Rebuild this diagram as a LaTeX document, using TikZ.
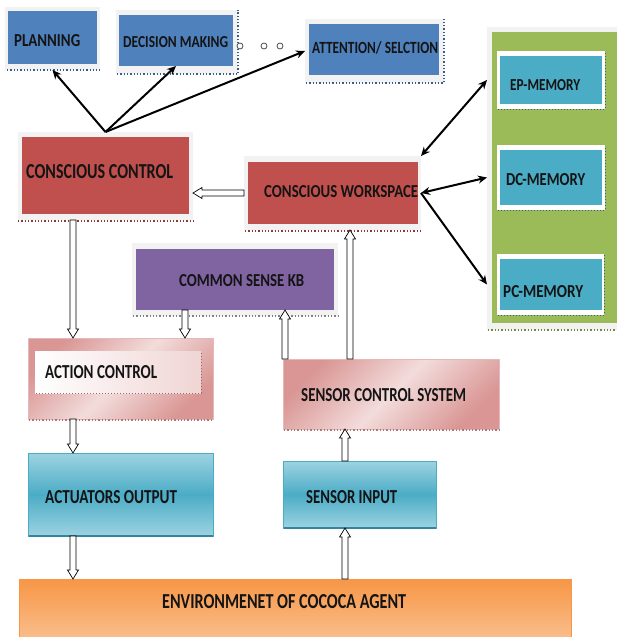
\documentclass[tikz,border=0pt]{standalone}
\usepackage{fontspec}
\setmainfont{Carlito}
\usepackage{graphicx}
\usetikzlibrary{calc,arrows.meta}
\definecolor{blueBox}{HTML}{4F81BD}
\definecolor{blueSh}{HTML}{385D8A}
\definecolor{frameG}{HTML}{F2F2F2}
\definecolor{redBox}{HTML}{C0504D}
\definecolor{redSh}{HTML}{8C3836}
\definecolor{purpBox}{HTML}{8064A2}
\definecolor{greenBox}{HTML}{9BBB59}
\definecolor{greenSh}{HTML}{71893F}
\definecolor{memBox}{HTML}{4BACC6}
\definecolor{pinkD}{HTML}{D99694}
\definecolor{pinkL}{HTML}{F2DCDB}
\definecolor{pinkB}{HTML}{E6B9B8}
\definecolor{cyanL}{HTML}{9DD3E1}
\definecolor{cyanD}{HTML}{4BACC6}
\definecolor{cyanB}{HTML}{31859C}
\definecolor{orD}{HTML}{F79646}
\definecolor{orL}{HTML}{FAC090}
\definecolor{txt}{HTML}{141414}
\newcommand\mkbox[6]{\node[#6, minimum width={(#4-#2)*1pt}, minimum height={(#5-#3)*1pt}] (#1) at ({(#2+#4)/2},{(#3+#5)/2}) {};}
\newcommand\fitlbl[3]{\resizebox{#1pt}{#2pt}{#3}}
\newcommand\blockarrow[2]{%
  \path (#1) coordinate (ba-s) (#2) coordinate (ba-e);
  \path ($(ba-e)!9pt!(ba-s)$) coordinate (ba-h);
  \draw[blk] ($(ba-s)!3pt!90:(ba-e)$) -- ($(ba-h)!3pt!-90:(ba-s)$) -- ($(ba-h)!5.5pt!-90:(ba-s)$) -- (ba-e) -- ($(ba-h)!5.5pt!90:(ba-s)$) -- ($(ba-h)!3pt!90:(ba-s)$) -- ($(ba-s)!3pt!-90:(ba-e)$) -- cycle;}
\begin{document}
\begin{tikzpicture}[x=1pt,y=-1pt,
  bx/.style={inner sep=0pt, outer sep=0pt},
  frm/.style={bx, fill=frameG},
  lbl/.style={anchor=west, inner sep=0pt, text=txt, font=\bfseries},
  tarr/.style={line width=2pt, draw=black},
  blk/.style={draw=black, line width=0.7pt, fill=white, line join=miter},
  shd/.style={dotted, line width=1.3pt},
  hnd/.style={circle, draw=black!70, line width=0.8pt, minimum size=6pt, inner sep=0pt, fill=white}]
\useasboundingbox (0,0) rectangle (617,637);
\fill[white] (0,0) rectangle (617,637);
% ---- top blue boxes
\mkbox{plan-f}{5}{7}{100}{70}{frm}
\draw[shd, draw=blueSh] (7,70) -- (100,70);
\mkbox{plan}{8}{11}{97}{64}{bx, fill=blueBox}
\mkbox{dec-f}{116}{10}{238}{74}{frm}
\draw[shd, draw=blueSh] (117,74) -- (238,74) -- (238,10);
\mkbox{dec}{119}{15}{233}{66}{bx, fill=blueBox}
\mkbox{att-f}{305}{19}{444}{83}{frm}
\draw[shd, draw=blueSh] (306,83) -- (444,83) -- (444,19);
\mkbox{att}{309}{24}{439}{75}{bx, fill=blueBox}
\node[hnd] (h1) at (240,46) {};
\node[hnd] (h2) at (264,46) {};
\node[hnd] (h3) at (280,46) {};
% ---- red boxes
\mkbox{cc-f}{18}{132}{193}{220}{frm}
\draw[shd, draw=redSh] (18,221) -- (193,221);
\mkbox{cc}{22}{137}{189}{214}{bx, fill=redBox}
\mkbox{cw-f}{244}{156}{421}{230}{frm}
\draw[shd, draw=redSh] (245,231) -- (421,231);
\mkbox{cw}{248}{162}{418}{224}{bx, fill=redBox}
% ---- common sense kb
\mkbox{kb-f}{132}{243}{338}{316}{frm}
\draw[shd, draw=black!50] (133,316) -- (338,316);
\mkbox{kb}{136}{249}{334}{310}{bx, fill=purpBox}
% ---- memory panel
\mkbox{green-f}{487}{27}{617}{330}{frm}
\draw[shd, draw=greenSh] (488,330) -- (617,330);
\mkbox{green}{492}{32}{617}{323}{bx, fill=greenBox}
\mkbox{ep-f}{497}{51}{605}{109}{bx, fill=white}
\draw[dotted, line width=1pt, draw=blueSh] (498,109) -- (605,109) -- (605,52);
\mkbox{ep}{500}{56}{602}{104}{bx, fill=memBox}
\mkbox{dc-f}{497}{145}{605}{210}{bx, fill=white}
\draw[dotted, line width=1pt, draw=blueSh] (498,210) -- (605,210) -- (605,146);
\mkbox{dc}{500}{150}{602}{205}{bx, fill=memBox}
\mkbox{pc-f}{497}{254}{604}{315}{bx, fill=white}
\draw[dotted, line width=1pt, draw=blueSh] (498,315) -- (604,315) -- (604,255);
\mkbox{pc}{500}{259}{602}{310}{bx, fill=memBox}
% ---- action control
\mkbox{ac}{28}{338}{213}{419}{bx, draw=pinkB, line width=0.8pt, left color=pinkD, right color=pinkD, middle color=pinkL, shading angle=45}
\draw[shd, draw=pinkD!80!black] (29,420) -- (213,420);
\mkbox{ac-in}{35}{351}{201}{393}{bx, left color=white, right color=pinkL!80!pinkB}
\draw[dotted, line width=1pt, draw=pinkD!70!black] (36,393) -- (201,393) -- (201,352);
% ---- sensor control system
\mkbox{scs}{283}{359}{499}{429}{bx, draw=pinkB, line width=0.8pt, left color=pinkD, right color=pinkD, middle color=pinkL, shading angle=45}
\draw[shd, draw=pinkD!80!black] (284,430) -- (499,430);
% ---- actuators / sensor input
\mkbox{ao}{28}{453}{213}{536}{bx, draw=cyanD, line width=0.8pt, top color=cyanL, bottom color=cyanL, middle color=cyanD}
\draw[line width=1.5pt, draw=cyanB] (29,536) -- (213,536);
\mkbox{si}{283}{461}{436}{528}{bx, draw=cyanD, line width=0.8pt, top color=cyanL, bottom color=cyanL, middle color=cyanD}
\draw[line width=1.5pt, draw=cyanB] (284,528) -- (436,528);
% ---- environment
\mkbox{env}{19}{579}{571}{642}{bx, draw=orD, line width=0.8pt, top color=orD, bottom color=orL}
% ---- labels
\node[lbl] (plan-l) at (14,41) {\fitlbl{66}{12}{PLANNING}};
\node[lbl] (dec-l) at (123,42) {\fitlbl{105}{11}{DECISION MAKING}};
\node[lbl] (att-l) at (312,48) {\fitlbl{126}{12}{ATTENTION/ SELCTION}};
\node[lbl] (cc-l) at (26,172) {\fitlbl{147}{14}{CONSCIOUS CONTROL}};
\node[lbl] (cw-l) at (264,192) {\fitlbl{154}{12}{CONSCIOUS WORKSPACE}};
\node[lbl] (kb-l) at (179,281) {\fitlbl{125}{12}{COMMON SENSE KB}};
\node[lbl] (ep-l) at (510,85) {\fitlbl{70}{11}{EP-MEMORY}};
\node[lbl] (dc-l) at (506,180) {\fitlbl{79}{12}{DC-MEMORY}};
\node[lbl] (pc-l) at (503,292) {\fitlbl{80}{12}{PC-MEMORY}};
\node[lbl] (ac-l) at (45,372) {\fitlbl{112}{13}{ACTION CONTROL}};
\node[lbl] (scs-l) at (301,395) {\fitlbl{165}{13}{SENSOR CONTROL SYSTEM}};
\node[lbl] (ao-l) at (45,497) {\fitlbl{132}{13}{ACTUATORS OUTPUT}};
\node[lbl] (si-l) at (306,497) {\fitlbl{91}{13}{SENSOR INPUT}};
\node[lbl] (env-l) at (162,602) {\fitlbl{244}{14}{ENVIRONMENET OF COCOCA AGENT}};
% ---- thin black arrows
\draw[tarr, -{Stealth[length=9pt,width=8pt]}] (cc-f.north) -- (plan-f.south);
\draw[tarr, -{Stealth[length=9pt,width=8pt]}] (cc-f.north) -- (dec.south);
\draw[tarr, -{Stealth[length=9pt,width=8pt]}] (cc-f.north) -- (att-f.west);
\draw[tarr, {Stealth[length=9pt,width=8pt]}-{Stealth[length=9pt,width=8pt]}] (cw-f.north east) -- (green-f.west |- ep.center);
\draw[tarr, {Stealth[length=9pt,width=8pt]}-{Stealth[length=9pt,width=8pt]}] (cw-f.east) -- (green-f.west |- dc.center);
\draw[tarr, -{Stealth[length=9pt,width=8pt]}] (cw-f.east) -- (green-f.west |- pc.center);
% ---- hollow block arrows
\coordinate (c73) at (73,0);
\coordinate (c185) at (185,0);
\coordinate (c285) at (285,0);
\coordinate (c350) at (350,0);
\coordinate (c345) at (345,0);
\blockarrow{cw-f.west}{cc-f.east |- cw-f.west}
\blockarrow{c73 |- cc-f.south}{c73 |- ac.north}
\blockarrow{c185 |- kb.south}{c185 |- ac.north}
\blockarrow{c285 |- scs.north}{c285 |- kb.south}
\blockarrow{c350 |- scs.north}{c350 |- cw-f.south}
\blockarrow{c73 |- ac.south}{c73 |- ao.north}
\blockarrow{c345 |- si.north}{c345 |- scs.south}
\blockarrow{c73 |- ao.south}{c73 |- env.north}
\blockarrow{c345 |- env.north}{c345 |- si.south}
\end{tikzpicture}
\end{document}
